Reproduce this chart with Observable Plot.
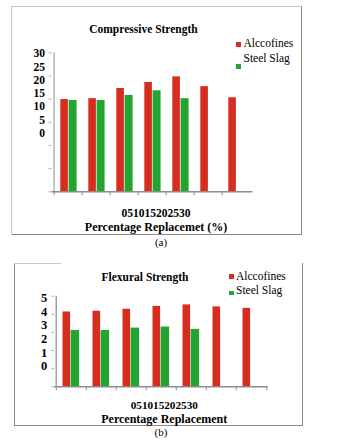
<!DOCTYPE html>
<html>
<head>
<meta charset="utf-8">
<script src="https://cdn.jsdelivr.net/npm/d3@7"></script>
<script src="https://cdn.jsdelivr.net/npm/@observablehq/plot@0.6"></script>
<style>
  html, body { margin: 0; padding: 0; background: white; }
  body { width: 339px; height: 443px; position: relative; overflow: hidden;
         font-family: "Liberation Serif", "Times New Roman", serif; color: #000; }
  .abs { position: absolute; white-space: nowrap; line-height: 1; }
  .box { position: absolute; box-sizing: border-box; }
  .title { font-weight: bold; font-size: 11.5px; text-align: center; }
  .leg { font-size: 11.5px; }
  .sw { position: absolute; width: 5px; height: 5px; }
  .cap { font-size: 11px; text-align: center; }
  .chart { position: absolute; left: 0; }
</style>
</head>
<body>
<div class="box" style="left:11px;top:6px;width:291px;height:229px;border-left:1px solid #c8c8c8;border-top:1px solid #c8c8c8;border-right:1.5px solid #8a8a8a;border-bottom:1.5px solid #8a8a8a;"></div>
<div class="box" style="left:13.5px;top:262.5px;width:289px;height:163px;border-left:1.5px solid #8a8a8a;border-right:1.5px solid #8a8a8a;border-bottom:1.5px solid #8a8a8a;"></div>
<div class="box" style="left:13.5px;top:262.5px;width:47px;height:0;border-top:1.5px solid #c8c8c8;"></div>

<div id="top" class="chart" style="top:0;"></div>
<div id="bottom" class="chart" style="top:250px;"></div>

<div class="abs title" style="left:0;width:287px;top:23.5px;">Compressive Strength</div>
<div class="sw" id="swA1" style="left:236px;top:42px;"></div>
<div class="abs leg" id="legA1" style="left:243.5px;top:38px;"></div>
<div class="sw" id="swA2" style="left:236px;top:63.5px;"></div>
<div class="abs leg" id="legA2" style="left:243.5px;top:52.7px;"></div>
<div class="abs cap" style="left:0;width:322px;top:236.5px;">(a)</div>

<div class="abs title" style="left:0;width:290px;top:272px;">Flexural Strength</div>
<div class="sw" id="swB1" style="left:229px;top:274px;width:4.5px;height:4.5px;"></div>
<div class="abs leg" id="legB1" style="left:236px;top:271px;"></div>
<div class="sw" id="swB2" style="left:229px;top:290.5px;width:4.5px;height:4.5px;"></div>
<div class="abs leg" id="legB2" style="left:236px;top:285.4px;"></div>
<div class="abs cap" style="left:0;width:322px;top:427.2px;">(b)</div>

<script>
// ---- data ----
const categories = ["0", "5", "10", "15", "20", "25", "30"];
const seriesNames = ["Alccofines", "Steel Slag"];
const seriesColors = ["#d62d20", "#22a531"];

const compAlccofines = [19.9, 20.1, 22.3, 23.6, 24.8, 22.7, 20.3];
const compSteelSlag = [19.7, 19.7, 20.8, 21.8, 20.1];
const compTicks = [0, 5, 10, 15, 20, 25, 30];
const compTitleX = "Percentage Replacemet (%)";

const flexAlccofines = [4.13, 4.17, 4.28, 4.44, 4.52, 4.41, 4.33];
const flexSteelSlag = [3.11, 3.11, 3.24, 3.30, 3.17];
const flexTicks = [0, 1, 2, 3, 4, 5];
const flexTitleX = "Percentage Replacement";

// legends
for (const [sw, lg, i] of [["swA1","legA1",0],["swA2","legA2",1],["swB1","legB1",0],["swB2","legB2",1]]) {
  document.getElementById(sw).style.background = seriesColors[i];
  document.getElementById(lg).textContent = seriesNames[i];
}

function toRows(values) {
  return values.map((v, i) => ({cat: categories[i], value: v}));
}

function chart(cfg) {
  const W = 339;
  const step = (W - cfg.ml - cfg.mr) / categories.length;
  const yMax = cfg.ticks[cfg.ticks.length - 1];
  const font = {fontFamily: "Liberation Serif, Times New Roman, serif", fontWeight: "bold", fill: "black"};
  return Plot.plot({
    width: W,
    height: cfg.height,
    marginLeft: cfg.ml,
    marginRight: cfg.mr,
    marginTop: cfg.mt,
    marginBottom: cfg.mb,
    style: {background: "none", overflow: "visible"},
    x: {type: "band", domain: categories, padding: 0, label: null},
    y: {domain: [0, yMax], label: null},
    marks: [
      Plot.barY(toRows(cfg.a), {x: "cat", y: "value", fill: seriesColors[0],
        insetLeft: cfg.redLeft, insetRight: step - cfg.redLeft - cfg.redW}),
      Plot.barY(toRows(cfg.b), {x: "cat", y: "value", fill: seriesColors[1],
        insetLeft: cfg.redLeft + cfg.redW, insetRight: step - cfg.redLeft - cfg.redW - cfg.greenW}),
      Plot.axisY({ticks: cfg.ticks, tickSize: 3, tickFormat: () => "", stroke: "#b4b4b4", label: null}),
      Plot.ruleX([categories[0]], {x: d => d, y1: 0, y2: yMax, dx: -step / 2, stroke: cfg.yAxisColor, strokeWidth: 1.5}),
      Plot.ruleY([0], {stroke: "#8c8c8c", strokeWidth: 1.5}),
      Plot.axisX({tickSize: 4, tickFormat: () => "", dx: -step / 2, stroke: "#8c8c8c", label: null}),
      ...(cfg.endTick ? [Plot.axisX({ticks: [categories[categories.length - 1]], tickSize: 4, tickFormat: () => "", dx: step / 2, stroke: "#8c8c8c", label: null})] : []),
      Plot.text(cfg.ticks, {
        y: d => yMax - (yMax - d) * cfg.squeeze,
        text: d => String(d),
        frameAnchor: "left", textAnchor: "end", dx: cfg.labelDx, dy: cfg.labelDy,
        fontSize: cfg.labelSize, ...font
      }),
      Plot.text([categories.join("")], {
        text: d => d, frameAnchor: "bottom", lineAnchor: "bottom",
        dx: cfg.catDx, dy: cfg.catDy, fontSize: cfg.catSize, ...font
      }),
      Plot.text([cfg.xTitle], {
        text: d => d, frameAnchor: "bottom", lineAnchor: "bottom",
        dx: cfg.catDx, dy: cfg.titleDy, fontSize: 12, ...font
      })
    ]
  });
}

document.getElementById("top").appendChild(chart({
  a: compAlccofines, b: compSteelSlag, ticks: compTicks, xTitle: compTitleX,
  height: 240, ml: 51.5, mr: 86.5, mt: 52.3, mb: 48.7,
  redLeft: 6.3, redW: 8.3, greenW: 8.7,
  squeeze: 0.57, labelDx: -7, labelDy: 1, labelSize: 11.5,
  catDx: 3.5, catDy: 25, catSize: 11.5, titleDy: 39, endTick: false, yAxisColor: "#b4b4b4"
}));

document.getElementById("bottom").appendChild(chart({
  a: flexAlccofines, b: flexSteelSlag, ticks: flexTicks, xTitle: flexTitleX,
  height: 193, ml: 54.3, mr: 71.2, mt: 45.7, mb: 56.7,
  redLeft: 6.5, redW: 8.1, greenW: 9,
  squeeze: 0.752, labelDx: -7.5, labelDy: 1.8, labelSize: 12.5,
  catDx: 2.7, catDy: 22, catSize: 11.2, titleDy: 36.5, endTick: true, yAxisColor: "#a0a0a0"
}));
</script>
</body>
</html>
